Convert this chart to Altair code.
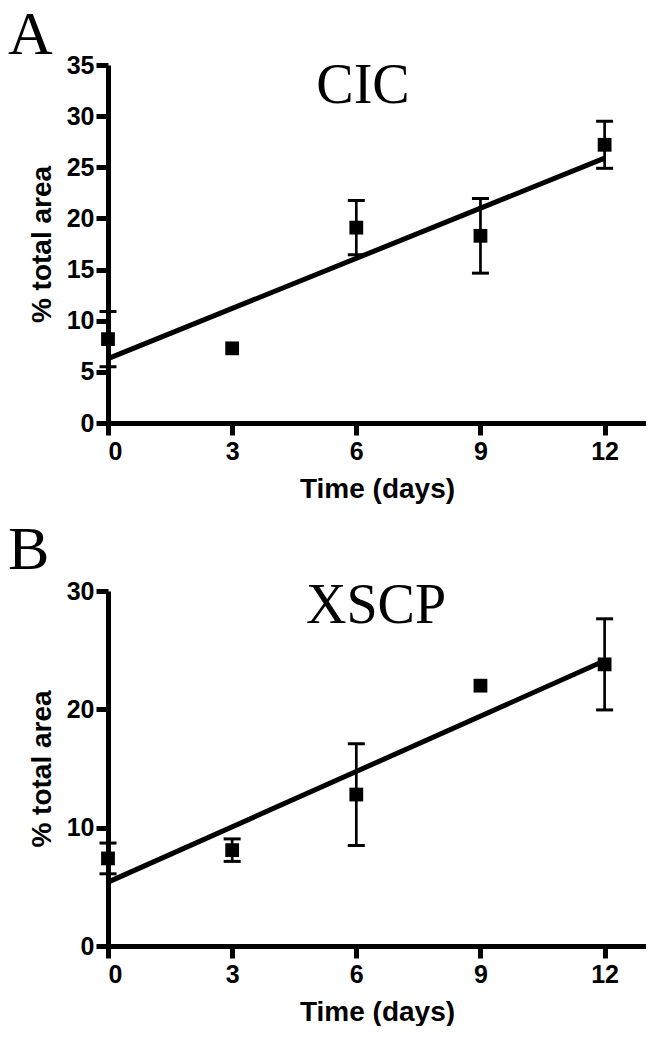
import altair as alt
import pandas as pd

days = [0, 3, 6, 9, 12]
cic_mean = [8.2, 7.3, 19.1, 18.3, 27.2]
cic_err = [2.7, 0.0, 2.65, 3.65, 2.3]
xscp_mean = [7.4, 8.1, 12.8, 22.0, 23.8]
xscp_err = [1.3, 0.95, 4.3, 0.0, 3.85]
fit_days = [0, 12]
cic_fit = [6.3, 25.9]
xscp_fit = [5.4, 24.1]
panel_letters = ["A", "B"]
panel_names = ["CIC", "XSCP"]
x_ticks = [0, 3, 6, 9, 12]
y_ticks_a = [0, 5, 10, 15, 20, 25, 30, 35]
y_ticks_b = [0, 10, 20, 30]

SERIF = "Liberation Serif"
SANS = "Liberation Sans"

AXIS_STYLE = dict(
    grid=False,
    domainColor="black", domainWidth=5,
    tickColor="black", tickWidth=5, tickSize=12,
    labelFont=SANS, labelFontSize=25, labelFontWeight="bold", labelColor="black",
    titleFont=SANS, titleFontSize=28, titleFontWeight="bold", titleColor="black",
)


def panel(mean, err, fit, letter, name, ymax, yticks, w, h, name_x, name_y, letter_y):
    df = pd.DataFrame({"day": days, "mean": mean, "err": err})
    df["lo"] = df["mean"] - df["err"]
    df["hi"] = df["mean"] + df["err"]
    dfe = df[df["err"] > 0]
    fitdf = pd.DataFrame({"day": fit_days, "v": fit})
    xs = alt.Scale(domain=[0, 13], nice=False)
    ys = alt.Scale(domain=[0, ymax], nice=False)
    xaxis = alt.Axis(values=x_ticks, title="Time (days)", labelPadding=4, titlePadding=11, **AXIS_STYLE)
    yaxis = alt.Axis(values=yticks, title="% total area", labelPadding=2, titlePadding=10, **AXIS_STYLE)

    def X():
        return alt.X("day:Q", scale=xs, axis=xaxis)

    def Y(field):
        return alt.Y(field, scale=ys, axis=yaxis)

    line = alt.Chart(fitdf).mark_line(color="black", strokeWidth=5).encode(x=X(), y=Y("v:Q"))
    bars = alt.Chart(dfe).mark_rule(color="black", strokeWidth=2.7).encode(x=X(), y=Y("lo:Q"), y2="hi:Q")
    cap_hi = alt.Chart(dfe).mark_tick(color="black", size=17, thickness=3, orient="horizontal", opacity=1).encode(
        x=X(), y=Y("hi:Q")
    )
    cap_lo = alt.Chart(dfe).mark_tick(color="black", size=17, thickness=3, orient="horizontal", opacity=1).encode(
        x=X(), y=Y("lo:Q")
    )
    pts = alt.Chart(df).mark_point(shape="square", filled=True, size=190, color="black", opacity=1).encode(
        x=X(), y=Y("mean:Q")
    )
    lab = alt.Chart(pd.DataFrame({"label": [name]})).mark_text(
        font=SERIF, fontSize=56, color="black", align="center", baseline="alphabetic"
    ).encode(x=alt.value(name_x), y=alt.value(name_y), text="label:N")
    let = alt.Chart(pd.DataFrame({"label": [letter]})).mark_text(
        font=SERIF, fontSize=62, color="black", align="left", baseline="alphabetic"
    ).encode(x=alt.value(-100), y=alt.value(letter_y), text="label:N")

    return alt.layer(line, bars, cap_hi, cap_lo, pts, lab, let).properties(width=w, height=h)


a = panel(cic_mean, cic_err, cic_fit, panel_letters[0], panel_names[0], 35, y_ticks_a, 538, 358, 255, 38, -11)
b = panel(xscp_mean, xscp_err, xscp_fit, panel_letters[1], panel_names[1], 30, y_ticks_b, 538, 355, 268, 32, -22)

chart = alt.vconcat(a, b, spacing=16).configure_view(strokeWidth=0).properties(
    padding={"left": 0, "top": -4, "right": 0, "bottom": 0}
)

chart.save("out.html", embed_options={"renderer": "svg", "actions": False})
